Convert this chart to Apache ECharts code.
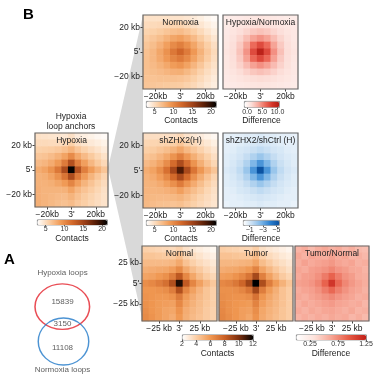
<!DOCTYPE html>
<html><head><meta charset="utf-8">
<script src="https://cdn.jsdelivr.net/npm/echarts@6/dist/echarts.min.js"></script>
<style>html,body{margin:0;padding:0;background:#fff}#c{width:379px;height:382px}</style>
</head><body><div id="c"></div>
<script>
// ---------- DATA ----------
const bins = ['1','2','3','4','5','6','7','8','9','10','11'];
const kbTicksTop = [-20, 0, 20];
const xLabelsTop = ['\u221220kb', "3'", '20kb'];
const yLabelsTop = ['\u221220 kb', "5'", '20 kb'];
const kbTicksBottom = [-25, 0, 25];
const xLabelsBottom = ['\u221225 kb', "3'", '25 kb'];
const yLabelsBottom = ['\u221225 kb', "5'", '25 kb'];

const panelTitles = ['Normoxia','Hypoxia/Normoxia','Hypoxia','shZHX2(H)','shZHX2/shCtrl (H)','Normal','Tumor','Tumor/Normal'];

const normoxia = [
[4.6,4.6,4.6,4.6,4.5,4.5,4.3,4.0,3.7,3.3,3.0],
[5.0,5.1,5.2,5.3,5.4,5.5,5.1,4.7,4.3,3.8,3.4],
[5.5,5.7,6.0,6.4,6.7,6.9,6.4,5.8,5.1,4.4,3.8],
[5.9,6.3,6.8,7.5,8.2,8.6,7.9,7.0,6.0,5.1,4.3],
[6.3,6.8,7.6,8.6,9.8,10.6,9.5,8.2,6.9,5.8,4.8],
[6.6,7.2,8.2,9.4,11.0,12.2,10.8,9.0,7.5,6.2,5.1],
[6.7,7.2,8.0,9.0,10.1,10.8,9.8,8.4,7.1,5.9,4.9],
[6.7,7.0,7.5,8.1,8.8,9.2,8.4,7.3,6.3,5.3,4.6],
[6.6,6.8,7.0,7.3,7.6,7.7,7.1,6.4,5.6,4.9,4.3],
[6.5,6.5,6.6,6.6,6.6,6.5,6.2,5.7,5.1,4.5,4.0],
[6.4,6.3,6.2,6.1,6.0,5.9,5.6,5.2,4.7,4.2,3.8]];

const hypVsNorm = [
[0.3,0.4,0.5,0.6,0.7,0.8,0.7,0.6,0.5,0.4,0.3],
[0.4,0.6,0.8,1.0,1.2,1.3,1.2,1.0,0.8,0.6,0.5],
[0.5,0.8,1.2,1.7,2.2,2.5,2.2,1.7,1.2,0.8,0.6],
[0.6,1.0,1.7,2.7,3.8,4.4,3.8,2.7,1.7,1.0,0.6],
[0.7,1.2,2.2,3.8,5.9,7.2,5.9,3.8,2.2,1.2,0.7],
[0.8,1.3,2.5,4.4,7.2,9.8,7.3,4.5,2.6,1.3,0.8],
[0.7,1.2,2.2,3.9,6.0,7.3,6.0,3.9,2.2,1.2,0.7],
[0.7,1.1,1.8,2.8,3.9,4.5,3.9,2.8,1.8,1.1,0.6],
[0.6,0.9,1.3,1.8,2.3,2.6,2.3,1.8,1.3,0.9,0.6],
[0.5,0.7,0.9,1.1,1.3,1.4,1.3,1.1,0.9,0.7,0.5],
[0.4,0.5,0.6,0.7,0.8,0.9,0.8,0.7,0.6,0.5,0.4]];

const hypoxia = [
[4.6,4.5,4.4,4.3,4.2,4.7,3.9,3.7,3.5,3.2,3.0],
[5.1,5.1,5.0,5.0,5.2,5.7,4.8,4.4,4.1,3.8,3.5],
[5.7,5.8,5.9,6.2,6.7,7.4,6.3,5.6,5.0,4.5,4.0],
[6.3,6.5,6.9,7.5,8.4,9.8,8.1,7.0,6.1,5.3,4.6],
[7.0,7.3,7.9,8.9,10.8,13.8,10.5,8.6,7.2,6.1,5.2],
[7.8,8.3,9.3,11.0,14.2,21.0,13.8,10.6,8.8,7.5,6.4],
[7.5,7.7,8.3,9.4,11.2,14.2,10.8,8.8,7.4,6.3,5.4],
[7.5,7.5,7.7,8.2,8.9,10.2,8.6,7.4,6.5,5.7,5.0],
[7.6,7.4,7.4,7.4,7.5,8.3,7.2,6.5,5.9,5.3,4.7],
[7.6,7.4,7.2,7.0,6.9,7.4,6.6,6.0,5.5,5.0,4.6],
[7.7,7.4,7.1,6.8,6.6,6.9,6.2,5.8,5.3,4.9,4.5]];

const shZHX2 = [
[4.8,4.8,4.8,4.8,4.8,5.2,4.5,4.2,3.9,3.5,3.2],
[5.3,5.4,5.5,5.6,5.8,6.4,5.5,5.1,4.7,4.2,3.7],
[5.8,6.0,6.4,6.8,7.4,8.2,7.1,6.3,5.6,4.9,4.3],
[6.4,6.7,7.3,8.1,9.3,10.6,9.0,7.7,6.6,5.7,4.8],
[7.0,7.5,8.3,9.7,11.8,14.2,11.6,9.3,7.7,6.4,5.3],
[7.8,8.4,9.6,11.5,14.6,18.5,14.4,11.2,9.1,7.6,6.4],
[7.5,7.9,8.7,10.0,11.9,14.4,11.7,9.4,7.8,6.5,5.4],
[7.4,7.5,7.9,8.6,9.5,10.8,9.2,7.9,6.8,5.8,5.0],
[7.3,7.3,7.4,7.6,7.9,8.6,7.6,6.8,6.1,5.3,4.7],
[7.2,7.1,7.0,7.0,7.1,7.4,6.8,6.1,5.5,5.0,4.5],
[7.1,6.9,6.7,6.6,6.5,6.7,6.2,5.7,5.2,4.8,4.4]];

const shRatio = [
[-0.5,-0.6,-0.6,-0.7,-0.7,-0.8,-0.7,-0.7,-0.6,-0.6,-0.5],
[-0.6,-0.6,-0.7,-0.8,-0.9,-1.0,-0.9,-0.8,-0.7,-0.6,-0.6],
[-0.6,-0.7,-0.9,-1.0,-1.2,-1.4,-1.2,-1.0,-0.9,-0.7,-0.6],
[-0.7,-0.8,-1.0,-1.3,-1.7,-2.1,-1.7,-1.3,-1.0,-0.8,-0.7],
[-0.7,-0.9,-1.2,-1.7,-2.6,-3.5,-2.6,-1.7,-1.2,-0.9,-0.7],
[-0.8,-1.0,-1.4,-2.1,-3.5,-5.3,-3.5,-2.1,-1.4,-1.0,-0.8],
[-0.7,-0.9,-1.2,-1.7,-2.6,-3.5,-2.6,-1.7,-1.2,-0.9,-0.7],
[-0.7,-0.8,-1.0,-1.3,-1.7,-2.1,-1.7,-1.3,-1.0,-0.8,-0.7],
[-0.6,-0.7,-0.9,-1.0,-1.2,-1.4,-1.2,-1.0,-0.9,-0.7,-0.6],
[-0.6,-0.6,-0.7,-0.8,-0.9,-1.0,-0.9,-0.8,-0.7,-0.6,-0.6],
[-0.5,-0.6,-0.6,-0.7,-0.7,-0.8,-0.7,-0.7,-0.6,-0.6,-0.5]];

const normal = [
[3.9,3.8,3.7,3.6,3.5,3.8,3.2,2.9,2.7,2.5,2.3],
[4.3,4.3,4.2,4.1,4.1,4.5,3.8,3.4,3.1,2.8,2.6],
[4.7,4.7,4.7,4.7,4.8,5.3,4.4,3.9,3.5,3.2,2.9],
[5.1,5.2,5.3,5.4,5.7,6.4,5.3,4.6,4.1,3.6,3.2],
[5.5,5.6,5.9,6.2,6.9,8.3,6.5,5.4,4.6,4.0,3.6],
[6.3,6.5,6.9,7.4,8.6,11.5,8.2,6.6,5.6,4.8,4.2],
[6.0,6.0,6.1,6.3,6.9,8.6,6.6,5.6,4.9,4.3,3.9],
[6.1,6.0,5.9,5.9,6.1,7.0,5.8,5.2,4.7,4.3,3.9],
[6.2,6.0,5.8,5.7,5.6,6.5,5.5,5.0,4.6,4.2,3.9],
[6.3,6.0,5.8,5.5,5.4,6.1,5.2,4.8,4.5,4.1,3.8],
[6.4,6.1,5.8,5.5,5.2,5.9,5.1,4.7,4.4,4.1,3.8]];

const tumor = [
[4.0,3.9,3.8,3.7,3.6,4.0,3.3,3.0,2.8,2.6,2.4],
[4.4,4.4,4.3,4.2,4.2,4.7,3.9,3.5,3.2,2.9,2.7],
[4.8,4.8,4.8,4.9,5.0,5.5,4.6,4.1,3.6,3.3,3.0],
[5.2,5.3,5.4,5.6,5.9,6.7,5.5,4.8,4.2,3.7,3.3],
[5.7,5.8,6.1,6.5,7.2,8.9,6.8,5.6,4.8,4.1,3.7],
[6.5,6.7,7.1,7.8,9.1,12.0,8.7,6.9,5.8,5.0,4.3],
[6.2,6.2,6.3,6.6,7.2,9.0,6.9,5.8,5.1,4.4,4.0],
[6.3,6.2,6.1,6.1,6.3,7.3,6.0,5.4,4.9,4.4,4.0],
[6.4,6.2,6.0,5.9,5.8,6.7,5.7,5.2,4.8,4.4,4.0],
[6.5,6.2,6.0,5.7,5.6,6.3,5.4,5.0,4.7,4.3,4.0],
[6.6,6.3,6.0,5.7,5.4,6.1,5.3,4.9,4.6,4.3,4.0]];

const tumorVsNormal = [
[0.55,0.60,0.52,0.58,0.62,0.57,0.60,0.54,0.58,0.52,0.50],
[0.61,0.56,0.63,0.60,0.58,0.64,0.59,0.62,0.55,0.57,0.53],
[0.58,0.64,0.60,0.63,0.65,0.68,0.63,0.60,0.63,0.56,0.58],
[0.62,0.59,0.65,0.67,0.70,0.75,0.69,0.66,0.61,0.60,0.55],
[0.60,0.65,0.66,0.71,0.80,0.90,0.79,0.70,0.66,0.59,0.57],
[0.64,0.66,0.69,0.76,0.90,1.12,0.88,0.75,0.68,0.63,0.58],
[0.59,0.63,0.65,0.70,0.79,0.88,0.78,0.70,0.64,0.61,0.56],
[0.61,0.58,0.63,0.66,0.70,0.74,0.69,0.65,0.62,0.57,0.59],
[0.57,0.62,0.59,0.62,0.65,0.67,0.63,0.61,0.58,0.60,0.54],
[0.60,0.56,0.61,0.58,0.62,0.63,0.60,0.57,0.61,0.55,0.57],
[0.55,0.59,0.56,0.60,0.57,0.61,0.58,0.60,0.54,0.58,0.52]];

const contactTicksTop = [5, 10, 15, 20];
const diffTicksHyp = [0, 5, 10];
const diffTicksSh = [-1, -3, -5];
const contactTicksBottom = [2, 4, 6, 8, 10, 12];
const diffTicksTumor = [0.25, 0.75, 1.25];

const vennSets = ['Hypoxia loops', 'Normoxia loops'];
const vennCounts = [15839, 3150, 11108]; // hypoxia only, shared, normoxia only

// ---------- STYLE / LAYOUT ----------
const FONT = '"Liberation Sans", Arial, sans-serif';
const contactColors = ['#ffffff','#fbcfa6','#f09a56','#d2682a','#9e4118','#561d07','#000000'];
const contactColorsB = ['#ffffff','#fbcda4','#ef9650','#c95f25','#7a2e0e','#000000'];
const redColors = ['#ffffff','#fcded8','#f7a99d','#ec6a5a','#d33428','#b01c14'];
const blueColors = ['#0a4f9e','#2a7fcf','#7ab4e6','#c3dcf2','#ffffff'];
const tnColors = ['#ffffff','#fde3dc','#f6a594','#e65a45','#c01d16'];

const mats = [normoxia, hypVsNorm, hypoxia, shZHX2, shRatio, normal, tumor, tumorVsNormal];
const TOP = {ext:30, ticks:kbTicksTop, xl:xLabelsTop, yl:yLabelsTop};
const BOT = {ext:46, ticks:kbTicksBottom, xl:xLabelsBottom, yl:yLabelsBottom};
const panels = [
  {l:143, t:15,  w:75, h:74, ax:TOP, y:true},
  {l:223, t:15,  w:75, h:74, ax:TOP, y:false},
  {l:35,  t:133, w:73, h:74, ax:TOP, y:true},
  {l:143, t:133, w:75, h:75, ax:TOP, y:true},
  {l:223, t:133, w:75, h:75, ax:TOP, y:false},
  {l:142, t:246, w:75, h:75, ax:BOT, y:true},
  {l:219, t:246, w:74, h:75, ax:BOT, y:false},
  {l:295, t:246, w:74, h:75, ax:BOT, y:false}
];
const bars = [
  {s:[0], min:2.7, max:21.3, c:contactColors, l:146, t:101, len:70, th:6, ticks:contactTicksTop, name:'Contacts'},
  {s:[1], min:-1, max:10.5, c:redColors, l:244, t:101, len:35, th:6, ticks:diffTicksHyp, name:'Difference', fmt:v=>v.toFixed(1)},
  {s:[2], min:2.7, max:21.3, c:contactColors, l:37, t:219.5, len:70, th:5, ticks:contactTicksTop, name:'Contacts'},
  {s:[3], min:2.7, max:21.3, c:contactColors, l:146, t:220, len:70, th:5, ticks:contactTicksTop, name:'Contacts'},
  {s:[4], min:-5.4, max:0, c:blueColors, inv:true, l:243, t:220, len:36, th:5, ticks:diffTicksSh, name:'Difference', fmt:v=>'\u2212'+Math.abs(v)},
  {s:[5,6], min:2, max:12, c:contactColorsB, l:182, t:334.5, len:71, th:5, ticks:contactTicksBottom, name:'Contacts'},
  {s:[7], min:0, max:1.25, c:tnColors, l:296, t:334.5, len:70, th:5, ticks:diffTicksTumor, name:'Difference'}
];

function cells(M){ const out=[]; M.forEach((row,r)=>row.forEach((v,c)=>out.push([c,r,v]))); return out; }

const grid=[], xAxis=[], yAxis=[], series=[], visualMap=[], graphic=[];
panels.forEach((p,i)=>{
  const gi = grid.length;
  grid.push({left:p.l, top:p.t, width:p.w, height:p.h, show:true, z:5, backgroundColor:'transparent', borderColor:'#666', borderWidth:1.2});
  const xc = xAxis.length;
  xAxis.push({type:'category', gridIndex:gi, data:bins, show:false, position:'top'});
  const tk = p.ax.ticks, xl = p.ax.xl, yl = p.ax.yl;
  xAxis.push({type:'value', gridIndex:gi, min:-p.ax.ext, max:p.ax.ext, position:'bottom',
    axisLine:{show:false}, splitLine:{show:false},
    axisTick:{show:true, customValues:tk, length:2.5, lineStyle:{color:'#444', width:1}},
    axisLabel:{customValues:tk, formatter:v=>xl[tk.indexOf(v)], fontSize:8.5, color:'#222', margin:3, fontFamily:FONT}});
  const yc = yAxis.length;
  yAxis.push({type:'category', gridIndex:gi, data:bins, show:false, inverse:true, position:'right'});
  if (p.y) {
    yAxis.push({type:'value', gridIndex:gi, min:-p.ax.ext, max:p.ax.ext, position:'left',
      axisLine:{show:false}, splitLine:{show:false},
      axisTick:{show:true, customValues:tk, length:2.5, lineStyle:{color:'#444', width:1}},
      axisLabel:{customValues:tk, formatter:v=>yl[tk.indexOf(v)], fontSize:8.5, color:'#222', margin:3, fontFamily:FONT}});
  }
  series.push({type:'heatmap', name:panelTitles[i], xAxisIndex:xc, yAxisIndex:yc, data:cells(mats[i]),
    emphasis:{disabled:true}, progressive:0, z:2});
  graphic.push({type:'text', x:p.l + p.w/2, y:p.t+3, z:20,
    style:{text:panelTitles[i], fontSize:8.5, fill:'#222', fontFamily:FONT, align:'center', verticalAlign:'top', textAlign:'center', textVerticalAlign:'top'}});
});

bars.forEach((b)=>{
  visualMap.push({type:'continuous', seriesIndex:b.s, min:b.min, max:b.max, orient:'horizontal',
    inverse:!!b.inv, left:b.l, top:b.t, itemWidth:b.th, itemHeight:b.len, calculable:false, realtime:false,
    hoverLink:false, padding:0, borderColor:'#777', borderWidth:0.8, text:null, showLabel:false,
    inRange:{color:b.c}});
  const gi = grid.length;
  grid.push({left:b.l, top:b.t, width:b.len, height:b.th});
  xAxis.push({type:'value', gridIndex:gi, min:b.min, max:b.max, inverse:!!b.inv, position:'bottom',
    axisLine:{show:false}, splitLine:{show:false},
    axisTick:{show:true, customValues:b.ticks, length:2, lineStyle:{color:'#555'}},
    axisLabel:{customValues:b.ticks, formatter:b.fmt || (v=>String(v)), fontSize:7, color:'#333', margin:1.5, fontFamily:FONT},
    name:b.name, nameLocation:'middle', nameGap:1, nameTextStyle:{fontSize:8.5, color:'#222', fontFamily:FONT}});
  yAxis.push({type:'value', gridIndex:gi, show:false});
});

// Venn diagram in its own coordinate frame
const vg = grid.length;
grid.push({left:0, top:260, width:126, height:122});
const vx = xAxis.length; xAxis.push({type:'value', gridIndex:vg, min:0, max:126, show:false});
const vy = yAxis.length; yAxis.push({type:'value', gridIndex:vg, min:0, max:122, inverse:true, show:false});
series.push({type:'scatter', xAxisIndex:vx, yAxisIndex:vy, silent:true, z:3,
  data:[{value:[62.3,46.7], symbolSize:[54.6,45.5], itemStyle:{borderColor:'#e3202a'}},
        {value:[63.5,81.5], symbolSize:[50.5,47], itemStyle:{borderColor:'#1f78c8'}}],
  symbol:'circle', itemStyle:{color:'rgba(0,0,0,0)', borderWidth:1.4}});
series.push({type:'scatter', xAxisIndex:vx, yAxisIndex:vy, silent:true, symbolSize:0, z:4,
  data:[[62.5,13,vennSets[0]],[62.5,42,String(vennCounts[0])],[62.5,64,String(vennCounts[1])],[62.5,87.5,String(vennCounts[2])],[62.5,110,vennSets[1]]],
  label:{show:true, position:'inside', formatter:p=>p.data[2], fontSize:8, color:'#333', fontFamily:FONT}});

// decorations
graphic.unshift({type:'polygon', z:-1, shape:{points:[[108,168],[143,15],[143,322]]}, style:{fill:'#d9d9d9'}});
graphic.push({type:'text', x:23, y:7, style:{text:'B', fontSize:15, fontWeight:'bold', fill:'#000', fontFamily:FONT}});
graphic.push({type:'text', x:4, y:252, style:{text:'A', fontSize:15, fontWeight:'bold', fill:'#000', fontFamily:FONT}});
graphic.push({type:'text', x:71, y:112, style:{text:'Hypoxia\nloop anchors', fontSize:8.5, lineHeight:10, fill:'#222', fontFamily:FONT, align:'center', textAlign:'center'}});

const chart = echarts.init(document.getElementById('c'), null, {renderer:'canvas'});
chart.setOption({animation:false, textStyle:{fontFamily:FONT}, grid, xAxis, yAxis, series, visualMap, graphic});
</script></body></html>
